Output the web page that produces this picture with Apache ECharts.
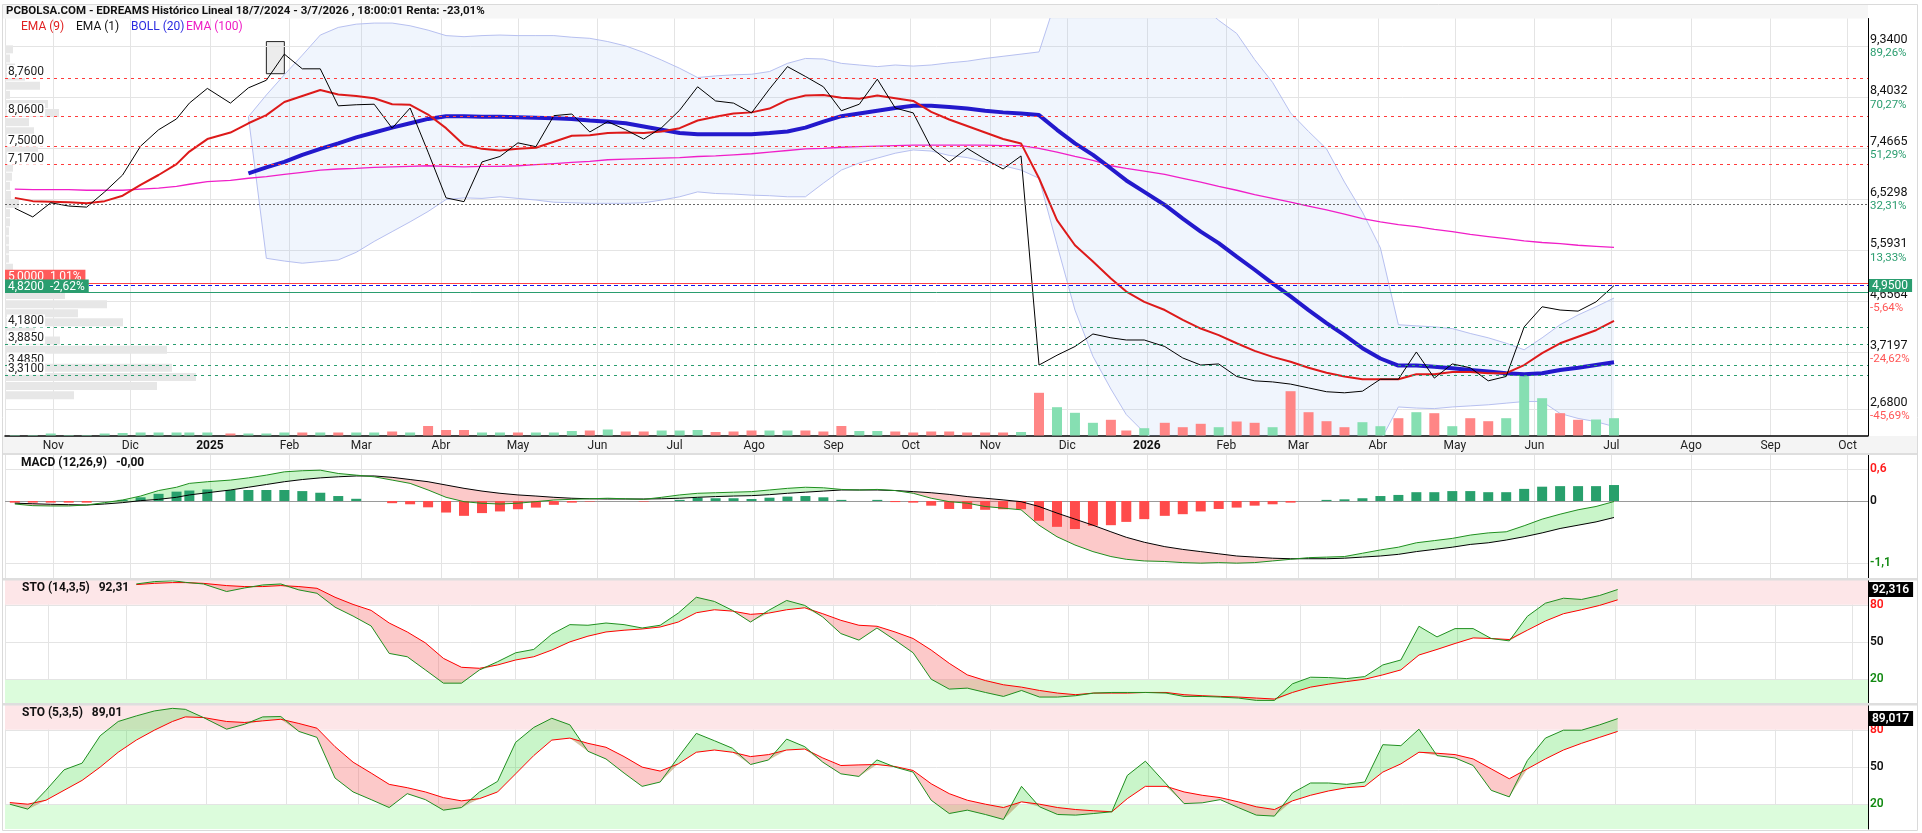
<!DOCTYPE html>
<html>
<head>
<meta charset="utf-8">
<title>EDREAMS - Histórico Lineal</title>
<script src="https://cdn.jsdelivr.net/npm/echarts@6.0.0/dist/echarts.min.js"></script>
<style>
  html, body { margin: 0; padding: 0; background: #fff; }
  #chart { width: 1922px; height: 833px; }
</style>
</head>
<body>
<div id="chart"></div>
<script>
// weekly sessions (Thursday), year-end weeks moved to the last session of the year
const weekDates = []
for (let i = 0; i < 90; i++) weekDates.push(new Date(2024, 9, 17 + 7 * i))
weekDates[10] = new Date(2024, 11, 24)
weekDates[11] = new Date(2024, 11, 31)
weekDates[62] = new Date(2025, 11, 24)
weekDates[63] = new Date(2025, 11, 31)

const monthNames = ['Ene', 'Feb', 'Mar', 'Abr', 'May', 'Jun', 'Jul', 'Ago', 'Sep', 'Oct', 'Nov', 'Dic']

const close = [
  6.37, 6.21, 6.47, 6.41, 6.39, 6.67, 6.98, 7.51, 7.81, 8.01,
  8.30, 8.57, 8.30, 8.58, 8.72, 9.20, 8.93, 8.93, 8.25, 8.27,
  8.28, 7.84, 8.21, 7.40, 6.56, 6.49, 7.22, 7.32, 7.57, 7.50,
  8.07, 8.10, 7.77, 7.96, 7.81, 7.64, 7.85, 8.17, 8.60, 8.34,
  8.30, 8.12, 8.56, 8.97, 8.79, 8.60, 8.16, 8.28, 8.74, 8.21,
  8.12, 7.48, 7.22, 7.47, 7.27, 7.09, 7.33, 3.49, 3.67, 3.83,
  4.06, 3.99, 3.95, 3.95, 3.83, 3.62, 3.49, 3.51, 3.28, 3.20,
  3.18, 3.14, 3.07, 3.00, 2.98, 3.01, 3.23, 3.23, 3.73, 3.25,
  3.51, 3.44, 3.20, 3.28, 4.19, 4.56, 4.50, 4.48, 4.65, 4.95
]
const ema9 = [
  6.56, 6.50, 6.49, 6.48, 6.46, 6.50, 6.60, 6.80, 6.98, 7.18,
  7.41, 7.64, 7.76, 7.93, 8.08, 8.32, 8.43, 8.54, 8.46, 8.43,
  8.39, 8.28, 8.27, 8.09, 7.84, 7.53, 7.46, 7.43, 7.46, 7.48,
  7.59, 7.70, 7.71, 7.75, 7.76, 7.75, 7.78, 7.84, 7.98, 8.05,
  8.11, 8.13, 8.20, 8.36, 8.44, 8.45, 8.40, 8.38, 8.44, 8.39,
  8.34, 8.14, 8.00, 7.88, 7.76, 7.64, 7.56, 6.92, 6.15, 5.69,
  5.39, 5.08, 4.84, 4.65, 4.50, 4.32, 4.16, 4.04, 3.89, 3.75,
  3.64, 3.55, 3.44, 3.35, 3.28, 3.23, 3.23, 3.23, 3.32, 3.32,
  3.36, 3.36, 3.34, 3.34, 3.49, 3.71, 3.89, 4.01, 4.13, 4.30
]
const ema100 = [
  6.72, 6.71, 6.71, 6.71, 6.70, 6.70, 6.70, 6.72, 6.74, 6.77,
  6.81, 6.86, 6.88, 6.92, 6.95, 6.99, 7.03, 7.07, 7.09, 7.10,
  7.12, 7.13, 7.14, 7.15, 7.14, 7.13, 7.14, 7.14, 7.15, 7.17,
  7.19, 7.21, 7.23, 7.26, 7.27, 7.28, 7.29, 7.30, 7.32, 7.33,
  7.35, 7.37, 7.40, 7.43, 7.46, 7.47, 7.49, 7.50, 7.51, 7.52,
  7.53, 7.53, 7.53, 7.53, 7.53, 7.52, 7.52, 7.47, 7.40, 7.32,
  7.25, 7.15, 7.10, 7.05, 6.99, 6.92, 6.85, 6.77, 6.70, 6.62,
  6.55, 6.48, 6.41, 6.34, 6.26, 6.18, 6.12, 6.07, 6.03, 5.98,
  5.94, 5.89, 5.85, 5.81, 5.77, 5.74, 5.72, 5.69, 5.67, 5.65
]
const bollMid = [
  null, null, null, null, null, null, null, null, null, null,
  null, null, null, 7.01, 7.12, 7.22, 7.35, 7.46, 7.56, 7.67,
  7.76, 7.85, 7.93, 8.01, 8.06, 8.06, 8.05, 8.05, 8.04, 8.03,
  8.02, 8.01, 7.98, 7.96, 7.93, 7.87, 7.81, 7.75, 7.73, 7.73,
  7.73, 7.73, 7.75, 7.78, 7.85, 7.96, 8.06, 8.11, 8.16, 8.21,
  8.25, 8.25, 8.23, 8.20, 8.16, 8.13, 8.11, 8.08, 7.81, 7.56,
  7.35, 7.10, 6.88, 6.67, 6.43, 6.18, 5.94, 5.73, 5.48, 5.24,
  4.99, 4.75, 4.50, 4.26, 4.04, 3.80, 3.61, 3.48, 3.48, 3.46,
  3.43, 3.40, 3.37, 3.34, 3.32, 3.34, 3.40, 3.44, 3.49, 3.54
]
const bollUp = [
  null, null, null, null, null, null, null, null, null, null,
  null, null, null, 8.05, 8.45, 8.82, 9.18, 9.55, 9.69, 9.75,
  9.77, 9.77, 9.72, 9.64, 9.54, 9.52, 9.54, 9.55, 9.54, 9.54,
  9.54, 9.51, 9.49, 9.43, 9.35, 9.23, 9.09, 8.94, 8.77, 8.80,
  8.82, 8.83, 8.88, 9.03, 9.12, 9.11, 9.03, 9.00, 8.97, 9.00,
  8.98, 9.00, 9.04, 9.07, 9.12, 9.16, 9.20, 9.24, 10.25, 10.45,
  10.6, 10.65, 10.65, 10.6, 10.5, 10.4, 10.1, 9.82, 9.58, 9.10,
  8.68, 8.12, 7.78, 7.46, 6.85, 6.30, 5.64, 4.23, 4.21, 4.19,
  4.16, 4.07, 3.99, 3.89, 3.77, 3.99, 4.23, 4.41, 4.56, 4.72
]
const bollLow = [
  null, null, null, null, null, null, null, null, null, null,
  null, null, null, 8.05, 5.45, 5.40, 5.36, 5.39, 5.42, 5.56,
  5.76, 5.94, 6.12, 6.31, 6.53, 6.56, 6.55, 6.58, 6.55, 6.52,
  6.48, 6.47, 6.46, 6.46, 6.46, 6.47, 6.52, 6.58, 6.67, 6.64,
  6.63, 6.61, 6.60, 6.58, 6.58, 6.83, 7.07, 7.20, 7.29, 7.38,
  7.44, 7.42, 7.34, 7.30, 7.22, 7.15, 7.07, 6.92, 5.70, 4.50,
  3.65, 3.05, 2.58, 2.25, 2.0, 1.85, 1.8, 1.75, 1.75, 1.8,
  1.85, 1.9, 1.95, 2.0, 2.0, 2.05, 2.1, 2.72, 2.70, 2.69,
  2.72, 2.74, 2.76, 2.79, 2.82, 2.82, 2.60, 2.51, 2.45, 2.36
]
// weekly volume (thousands) and direction of the week (1 up, 0 down)
const volume = [
  5, 5, 20, 5, 5, 20, 25, 30, 30, 30,
  30, 30, 20, 20, 20, 30, 30, 30, 30, 30,
  30, 40, 30, 95, 55, 55, 30, 30, 30, 30,
  30, 45, 50, 60, 40, 40, 50, 50, 55, 35,
  40, 50, 50, 50, 50, 40, 95, 45, 45, 40,
  30, 40, 40, 30, 30, 30, 35, 427, 283, 227,
  127, 157, 50, 73, 127, 83, 117, 83, 140, 127,
  83, 443, 233, 143, 83, 133, 93, 173, 233, 223,
  93, 173, 143, 173, 617, 373, 223, 157, 160, 173
]
const volUp = [
  1, 1, 1, 1, 1, 1, 1, 1, 1, 1,
  1, 1, 0, 1, 1, 1, 0, 1, 0, 1,
  1, 0, 1, 0, 0, 0, 1, 1, 0, 1,
  1, 1, 0, 1, 0, 0, 1, 1, 1, 0,
  0, 0, 1, 1, 0, 0, 0, 1, 1, 0,
  0, 0, 0, 0, 0, 0, 1, 0, 1, 1,
  1, 0, 0, 1, 0, 0, 0, 1, 0, 0,
  1, 0, 0, 0, 0, 1, 1, 0, 1, 0,
  1, 0, 0, 1, 1, 1, 0, 0, 1, 1
]
// volume by price, bins from the bottom up
const profileVol = [
  69, 152, 191, 167, 40, 162, 55, 30, 118, 73,
  102, 60, 40, 20, 8, 4, 4, 4, 4, 5,
  5, 14, 6, 5, 7, 8, 6, 33, 20, 29,
  24, 54, 43, 5, 35, 20, 10, 5, 8, 0
]
const macd = [
  -0.055, -0.085, -0.09, -0.09, -0.073, -0.03, 0.018, 0.09, 0.19, 0.25,
  0.32, 0.35, 0.38, 0.42, 0.47, 0.53, 0.55, 0.56, 0.50, 0.47,
  0.44, 0.38, 0.32, 0.20, 0.067, -0.012, -0.042, -0.055, -0.04, -0.012,
  0.018, 0.03, 0.04, 0.05, 0.04, 0.03, 0.067, 0.11, 0.14, 0.15,
  0.16, 0.17, 0.20, 0.23, 0.25, 0.24, 0.21, 0.20, 0.21, 0.19,
  0.14, 0.05, -0.012, -0.04, -0.10, -0.13, -0.16, -0.44, -0.65, -0.80,
  -0.92, -1.01, -1.06, -1.09, -1.10, -1.12, -1.13, -1.12, -1.13, -1.12,
  -1.09, -1.06, -1.03, -1.02, -1.01, -0.95, -0.89, -0.84, -0.76, -0.72,
  -0.68, -0.62, -0.58, -0.56, -0.45, -0.33, -0.24, -0.16, -0.10, -0.01
]
const macdSignal = [
  -0.04, -0.05, -0.06, -0.067, -0.073, -0.055, -0.03, 0.006, 0.03, 0.067,
  0.11, 0.15, 0.20, 0.25, 0.30, 0.35, 0.39, 0.42, 0.44, 0.455,
  0.455, 0.43, 0.39, 0.35, 0.29, 0.23, 0.18, 0.14, 0.11, 0.09,
  0.067, 0.05, 0.04, 0.036, 0.036, 0.036, 0.04, 0.05, 0.067, 0.08,
  0.09, 0.097, 0.115, 0.14, 0.16, 0.18, 0.20, 0.20, 0.20, 0.19,
  0.17, 0.15, 0.12, 0.08, 0.05, 0.02, -0.012, -0.10, -0.22, -0.33,
  -0.44, -0.56, -0.66, -0.75, -0.83, -0.88, -0.92, -0.96, -1.0, -1.02,
  -1.04, -1.05, -1.05, -1.05, -1.04, -1.02, -1.0, -0.97, -0.92, -0.88,
  -0.84, -0.79, -0.76, -0.71, -0.65, -0.58, -0.50, -0.44, -0.38, -0.30
]
const macdHist = [
  -0.03, -0.03, -0.03, -0.03, -0.03, 0, 0.02, 0.067, 0.13, 0.17,
  0.19, 0.21, 0.2, 0.2, 0.2, 0.2, 0.18, 0.15, 0.09, 0.04,
  0, -0.04, -0.06, -0.115, -0.21, -0.27, -0.22, -0.19, -0.15, -0.12,
  -0.07, -0.03, -0.01, 0, 0, -0.01, 0, 0.02, 0.06, 0.05,
  0.05, 0.036, 0.06, 0.08, 0.09, 0.067, 0.02, 0, 0.02, -0.02,
  -0.03, -0.085, -0.145, -0.145, -0.16, -0.15, -0.15, -0.36, -0.47, -0.51,
  -0.45, -0.44, -0.38, -0.33, -0.27, -0.24, -0.19, -0.145, -0.12, -0.085,
  -0.06, -0.03, 0, 0.02, 0.03, 0.05, 0.09, 0.11, 0.16, 0.16,
  0.18, 0.18, 0.16, 0.16, 0.22, 0.26, 0.27, 0.27, 0.27, 0.29
]
const sto14K = [
  null, null, null, null, null, null, null, 96.8, 98.7, 99.5,
  98.1, 96.8, 90.7, 93.6, 96, 96.8, 92, 89.3, 78.1, 70.9,
  62.9, 40.8, 38.1, 27.5, 16.8, 16.8, 27.5, 34.1, 41.3, 44,
  56.3, 64, 63.5, 65.3, 64, 61.3, 63.5, 73.3, 86.1, 82.7,
  75.5, 66.1, 75.5, 83.5, 79.5, 70.1, 56.8, 51.5, 61.3, 51.5,
  41.3, 20, 12, 12.8, 9.3, 6.1, 10.9, 5.6, 5.6, 6.7,
  8.8, 9.3, 9.3, 9.3, 8.8, 6.1, 6.1, 5.6, 4.8, 2.9,
  2.9, 16.3, 21.6, 21.3, 20.5, 22.1, 31.5, 35.5, 62.7, 54.1,
  60.8, 60.8, 52.8, 50.9, 70.7, 81.3, 85.3, 84.3, 87.5, 92.316
]
const sto14D = [
  null, null, null, null, null, null, null, 96.3, 97.3, 97.9,
  97.9, 97.3, 95.5, 94.7, 94.7, 95.5, 94.7, 93.3, 86.1, 80.3,
  75.5, 65.3, 58.1, 49.3, 36.8, 29.6, 28.8, 31.5, 35.5, 38.1,
  43.5, 50.1, 54.7, 58.1, 59.5, 60.5, 62.1, 66.1, 73.6, 76,
  74.9, 72.3, 73.3, 76, 77.6, 72.8, 67.5, 63.5, 62.7, 58.1,
  52.8, 43.5, 32.8, 23.5, 18.9, 15.5, 13.6, 10.9, 8.8, 7.5,
  8.8, 8.8, 8.8, 9.3, 9.3, 7.5, 6.7, 6.1, 5.6, 4.8,
  4, 9.3, 13.6, 16, 18.1, 20, 23.5, 27.5, 39.5, 44,
  48.8, 53.3, 52.8, 52, 59.5, 66.9, 72.8, 76, 79.5, 84
]
const sto5K = [
  20, 16, 31.2, 47.7, 53.1, 75.2, 86.7, 91.2, 95.2, 97.3,
  96.5, 89.9, 80.5, 84.5, 90.4, 90.7, 78.7, 73.9, 41.1, 29.9,
  23.7, 17.3, 28.5, 23.7, 15.2, 17.3, 29.9, 38.4, 69.9, 81.9,
  89.3, 84, 62.7, 56.5, 45.1, 34.4, 37.9, 57.9, 77.1, 71.2,
  65.1, 52, 55.7, 72.5, 66.4, 53.9, 44.5, 42.4, 55.7, 49.9,
  45.9, 23.2, 12.5, 15.2, 11.7, 7.7, 34.4, 17.9, 11.7, 11.2,
  12.5, 13.9, 43.2, 54.7, 36.5, 20.5, 21.1, 23.7, 17.3, 11.2,
  10.4, 29.1, 37.1, 37.1, 36, 37.9, 68, 67.2, 80.5, 59.2,
  57.3, 51.2, 31.2, 25.9, 55.2, 73.3, 79.7, 79.7, 84, 89.017
]
const sto5D = [
  21.3, 20, 23.2, 31.2, 39.2, 49.9, 61.9, 71.7, 79.7, 86.7,
  90.4, 89.9, 86.7, 85.9, 87.2, 88.5, 85.1, 81.3, 66.4, 53.9,
  45.1, 36, 33.3, 29.9, 25.3, 22.7, 24.5, 29.9, 44.5, 59.2,
  71.7, 73.3, 69.1, 65.9, 58.4, 49.9, 46.7, 52.5, 61.9, 63.7,
  61.9, 58.4, 60, 63.7, 64.5, 57.3, 51.2, 51.7, 52, 50.4,
  47.2, 36.5, 28.5, 23.2, 20, 17.3, 21.9, 20, 17.3, 15.7,
  14.7, 13.9, 24.5, 34.4, 34.4, 29.9, 27.2, 25.3, 21.9, 17.9,
  15.7, 22.7, 27.2, 30.7, 33.3, 34.4, 45.9, 52.5, 61.9, 61.1,
  60, 56.5, 48.5, 40.5, 48.5, 56.5, 63.7, 69.1, 73.9, 78.7
]

// price scale ticks (right) and their distance to the last close
const priceTicks = [9.34, 8.4032, 7.4665, 6.5298, 5.5931, 4.6564, 3.7197, 2.68]
const priceTickLabels = ['9,3400', '8,4032', '7,4665', '6,5298', '5,5931', '4,6564', '3,7197', '2,6800']
const priceTickPct = ['89,26%', '70,27%', '51,29%', '32,31%', '13,33%', '-5,64%', '-24,62%', '-45,69%']
// resistances / supports drawn with their price on the left
const resLevels = [8.76, 8.06, 7.50, 7.17]
const resLabels = ['8,7600', '8,0600', '7,5000', '7,1700']
const supLevels = [4.18, 3.885, 3.485, 3.31]
const supLabels = ['4,1800', '3,8850', '3,4850', '3,3100']
const pivotLevel = 6.44
const lastClose = 4.95
const alertHigh = 5.00
const alertLow = 4.82
const macdTicks = [0.58, 0, -1.13]
const macdTickLabels = ['0,6', '0', '-1,1']
const stoTicks = [80, 50, 20]

const GREEN = '#2a9d6f'
const DAY = 86400000
const xMin = new Date(2024, 9, 15, 3).getTime()
const xMax = new Date(2026, 9, 7).getTime()
const FONT = 'Roboto, "Liberation Sans", sans-serif'

const pair = arr => weekDates.map((d, i) => [d, arr[i]])

const fillBetween = (a, b, gi, id, upColor, dnColor) => {
    const base = a.map((v, i) => v == null ? null : Math.min(v, b[i]))
    const up = a.map((v, i) => v == null ? null : Math.max(v - b[i], 0))
    const dn = a.map((v, i) => v == null ? null : Math.max(b[i] - v, 0))
    const common = {
        type: 'line', xAxisIndex: gi, yAxisIndex: gi + 1, symbol: 'none', silent: true,
        stackStrategy: 'all', lineStyle: { opacity: 0 }, z: 2
    }
    return [
        { ...common, stack: id + 'u', data: pair(base) },
        { ...common, stack: id + 'u', data: pair(up), areaStyle: { color: upColor, opacity: 1 } },
        { ...common, stack: id + 'd', data: pair(base) },
        { ...common, stack: id + 'd', data: pair(dn), areaStyle: { color: dnColor, opacity: 1 } }
    ]
}

const timeAxis = (gi, showLabel) => ({
    type: 'time', gridIndex: gi, min: xMin, max: xMax,
    minInterval: 28 * DAY, maxInterval: 31 * DAY, splitNumber: 24,
    splitLine: { show: true, lineStyle: { color: '#e4e4e4', width: 1 } },
    axisLine: { show: showLabel, onZero: false, lineStyle: { color: '#000', width: 1.5 } },
    axisTick: { show: false },
    axisLabel: showLabel ? {
        show: true, margin: 4, color: '#222', fontSize: 12, fontFamily: FONT,
        formatter: value => {
            const d = new Date(value)
            return d.getMonth() === 0 ? '{y|' + d.getFullYear() + '}' : monthNames[d.getMonth()]
        },
        rich: { y: { fontWeight: 'bold', fontSize: 12, color: '#111' } }
    } : { show: false }
})

const valueAxis = (gi, min, max) => ({
    type: 'value', gridIndex: gi, min: min, max: max, position: 'right',
    axisLine: { show: true, lineStyle: { color: '#000', width: 1 } },
    axisTick: { show: false }, axisLabel: { show: false }, splitLine: { show: false }
})

const hLine = (value, color, type, label) => ({
    yAxis: value,
    lineStyle: { color: color, type: type, width: 1 },
    label: label || { show: false }
})

const leftLabel = text => ({
    show: true, position: 'insideStartTop', distance: [2, 0], formatter: text,
    color: '#222', fontSize: 12, fontFamily: FONT, backgroundColor: '#fff', padding: [1, 1, 0, 1]
})
const boxLabel = (text, bg, position) => ({
    show: true, position: position, distance: position === 'end' ? [1, 0] : [0, 0], formatter: text,
    color: '#fff', fontSize: 12, fontFamily: FONT, backgroundColor: bg, padding: [1, 4, 0, 3]
})

const chartDom = document.getElementById('chart')
const myChart = echarts.init(chartDom)

const series = []

// price gridlines with the right scale
series.push({
    type: 'line', xAxisIndex: 0, yAxisIndex: 0, data: [], silent: true,
    markLine: {
        z: 1, silent: true, symbol: 'none', animation: false,
        data: priceTicks.map((v, i) => ({
            yAxis: v,
            lineStyle: { color: '#e4e4e4', type: 'solid', width: 1 },
            label: {
                show: true, position: 'end', distance: 2, fontFamily: FONT,
                formatter: '{v|' + priceTickLabels[i] + '}\n{' + (v > lastClose ? 'g' : 'r') + '|' + priceTickPct[i] + '}',
                rich: {
                    v: { color: '#111', fontSize: 12.5, lineHeight: 14, fontFamily: FONT },
                    g: { color: GREEN, fontSize: 11.5, lineHeight: 13, fontFamily: FONT },
                    r: { color: '#f55', fontSize: 11.5, lineHeight: 13, fontFamily: FONT }
                }
            }
        }))
    }
})

// volume by price
series.push({
    type: 'bar', xAxisIndex: 4, yAxisIndex: 5, data: profileVol, barWidth: 8,
    itemStyle: { color: '#e7e7e7' }, silent: true, z: 1
})

// bollinger band
series.push({
    type: 'line', xAxisIndex: 0, yAxisIndex: 0, data: pair(bollLow), stack: 'boll', stackStrategy: 'all',
    symbol: 'none', silent: true, z: 2, lineStyle: { color: '#b7c0f0', width: 1 }
})
series.push({
    type: 'line', xAxisIndex: 0, yAxisIndex: 0, stack: 'boll', stackStrategy: 'all',
    data: pair(bollUp.map((v, i) => v == null ? null : v - bollLow[i])),
    symbol: 'none', silent: true, z: 2, lineStyle: { color: '#b7c0f0', width: 1 },
    areaStyle: { color: 'rgba(160,190,245,0.22)' }
})

// volume
series.push({
    type: 'bar', xAxisIndex: 0, yAxisIndex: 1, barWidth: 10, silent: true, z: 3,
    data: weekDates.map((d, i) => ({
        value: [d, volume[i]],
        itemStyle: { color: volUp[i] ? '#86dfb2' : '#ff8686' }
    }))
})

series.push({
    type: 'line', xAxisIndex: 0, yAxisIndex: 0, data: pair(ema100), symbol: 'none', silent: true, z: 4,
    lineStyle: { color: '#f01fc8', width: 1.3 }
})
series.push({
    type: 'line', xAxisIndex: 0, yAxisIndex: 0, data: pair(bollMid), symbol: 'none', silent: true, z: 5,
    lineStyle: { color: '#2319cc', width: 4 }
})
series.push({
    type: 'line', xAxisIndex: 0, yAxisIndex: 0, data: pair(ema9), symbol: 'none', silent: true, z: 6,
    lineStyle: { color: '#dd1a1a', width: 2 }
})
series.push({
    type: 'line', xAxisIndex: 0, yAxisIndex: 0, data: pair(close), symbol: 'none', silent: true, z: 7,
    lineStyle: { color: '#000', width: 1 },
    markArea: {
        silent: true,
        itemStyle: { color: '#ececec', borderColor: '#222', borderWidth: 1 },
        data: [[{ coord: [weekDates[14], 9.43] }, { coord: [weekDates[15], 8.84] }]]
    }
})

// reference levels
series.push({
    type: 'line', xAxisIndex: 0, yAxisIndex: 0, data: [], silent: true,
    markLine: {
        z: 8, silent: true, symbol: 'none', animation: false,
        data: [
            ...resLevels.map((v, i) => hLine(v, '#ff3c3c', [3, 4], leftLabel(resLabels[i]))),
            hLine(pivotLevel, '#666', [2, 2]),
            hLine(alertHigh, '#ff4545', 'solid', boxLabel('5,0000  1,01%', '#ff5a5a', 'insideStartTop')),
            hLine(lastClose, '#1010ee', [4, 3], boxLabel('4,9500', GREEN, 'end')),
            hLine(alertLow, GREEN, 'solid', boxLabel('4,8200  -2,62%', GREEN, 'insideStartTop')),
            ...supLevels.map((v, i) => hLine(v, GREEN, [3, 4], leftLabel(supLabels[i])))
        ]
    }
})

// MACD panel
series.push({
    type: 'line', xAxisIndex: 1, yAxisIndex: 2, data: [], silent: true,
    markLine: {
        z: 1, silent: true, symbol: 'none', animation: false,
        data: macdTicks.map((v, i) => ({
            yAxis: v,
            lineStyle: { color: v === 0 ? '#9a9a9a' : '#e4e4e4', type: 'solid', width: 1 },
            label: {
                show: true, position: 'end', distance: 2, formatter: macdTickLabels[i],
                color: v > 0 ? '#ff1a1a' : (v < 0 ? '#138a13' : '#111'),
                fontSize: 12, fontWeight: 600, fontFamily: FONT
            }
        }))
    }
})
series.push({
    type: 'bar', xAxisIndex: 1, yAxisIndex: 2, barWidth: 10, silent: true, z: 3,
    data: weekDates.map((d, i) => ({
        value: [d, macdHist[i]],
        itemStyle: { color: macdHist[i] >= 0 ? '#28a06c' : '#ff4b4b' }
    }))
})
series.push(...fillBetween(macd, macdSignal, 1, 'macd', 'rgba(60,220,60,0.28)', 'rgba(245,90,90,0.33)'))
series.push({
    type: 'line', xAxisIndex: 1, yAxisIndex: 2, data: pair(macdSignal), symbol: 'none', silent: true, z: 4,
    lineStyle: { color: '#000', width: 1 }
})
series.push({
    type: 'line', xAxisIndex: 1, yAxisIndex: 2, data: pair(macd), symbol: 'none', silent: true, z: 5,
    lineStyle: { color: '#1f8f1f', width: 1 }
})

// stochastic panels
const stoPanel = (gi, k, d, lastText) => {
    const out = []
    out.push({
        type: 'line', xAxisIndex: gi, yAxisIndex: gi + 1, data: [], silent: true,
        markArea: {
            silent: true, z: 0,
            data: [
                [{ yAxis: 80, itemStyle: { color: '#fde6e8' } }, { yAxis: 100 }],
                [{ yAxis: 0, itemStyle: { color: '#dcfcdc' } }, { yAxis: 20 }]
            ]
        },
        markLine: {
            z: 1, silent: true, symbol: 'none', animation: false,
            data: stoTicks.map(v => ({
                yAxis: v,
                lineStyle: { color: '#e4e4e4', type: 'solid', width: 1 },
                label: {
                    show: true, position: 'end', distance: 2, formatter: String(v),
                    color: v === 80 ? '#ff1a1a' : (v === 20 ? '#138a13' : '#111'),
                    fontSize: 12, fontWeight: 600, fontFamily: FONT
                }
            }))
        }
    })
    // last value box on the scale
    out.push({
        type: 'line', xAxisIndex: gi, yAxisIndex: gi + 1, data: [], silent: true,
        markLine: {
            z: 9, silent: true, symbol: 'none', animation: false,
            data: [{
                yAxis: k[k.length - 1],
                lineStyle: { color: 'rgba(0,0,0,0)', width: 0 },
                label: {
                    show: true, position: 'end', distance: 1, formatter: lastText,
                    color: '#fff', backgroundColor: '#000', padding: [2, 4, 1, 3],
                    fontSize: 12, fontWeight: 600, fontFamily: FONT
                }
            }]
        }
    })
    out.push(...fillBetween(k, d, gi, 'sto' + gi, 'rgba(60,220,60,0.28)', 'rgba(245,90,90,0.33)'))
    out.push({
        type: 'line', xAxisIndex: gi, yAxisIndex: gi + 1, data: pair(d), symbol: 'none', silent: true, z: 4,
        lineStyle: { color: '#ff0000', width: 1 }
    })
    out.push({
        type: 'line', xAxisIndex: gi, yAxisIndex: gi + 1, data: pair(k), symbol: 'none', silent: true, z: 5,
        lineStyle: { color: '#1f8f1f', width: 1 }
    })
    return out
}
series.push(...stoPanel(2, sto14K, sto14D, '92,316'))
series.push(...stoPanel(3, sto5K, sto5D, '89,017'))

const text = (x, y, str, color, weight, size) => ({
    type: 'text', x: x, y: y, z: 100, silent: true,
    style: { text: str, fill: color, fontSize: size || 12, fontFamily: FONT, fontWeight: weight || 'normal', verticalAlign: 'middle' }
})
const band = (x, y, w, h, color, z) => ({
    type: 'rect', z: z, silent: true, shape: { x: x, y: y, width: w, height: h }, style: { fill: color }
})

const option = {
    animation: false,
    textStyle: { fontFamily: FONT },
    grid: [
        { left: 5, right: 54, top: 18.5, height: 417 },
        { left: 5, right: 54, top: 455, height: 123 },
        { left: 5, right: 54, top: 580, height: 124 },
        { left: 5, right: 54, top: 705, height: 124 },
        { left: 5, right: 54, top: 35.7, height: 364 }
    ],
    xAxis: [
        timeAxis(0, true), timeAxis(1, false), timeAxis(2, false), timeAxis(3, false),
        { type: 'value', gridIndex: 4, min: 0, max: 1863, show: false }
    ],
    yAxis: [
        valueAxis(0, 2.196, 9.854),
        { type: 'value', gridIndex: 0, min: 0, max: 4170, show: false },
        valueAxis(1, -1.4, 0.836),
        valueAxis(2, 0, 100),
        valueAxis(3, 0, 100),
        { type: 'category', gridIndex: 4, data: profileVol.map((v, i) => 'b' + i), show: false }
    ],
    series: series,
    graphic: [
        { type: 'rect', z: -20, silent: true, shape: { x: 2.5, y: 4.5, width: 1915, height: 826 },
          style: { fill: '#fff', stroke: '#dadada', lineWidth: 1 } },
        band(3, 5, 1865, 13.5, '#f6f6f6', -10),
        band(3, 436, 1914, 17, '#f4f4f4', -10),
        band(3, 453, 1914, 2, '#dedede', 50),
        band(3, 578, 1914, 2.5, '#dedede', 50),
        band(3, 703, 1914, 2.5, '#dedede', 50),
        text(6, 11.5, 'PCBOLSA.COM - EDREAMS Histórico Lineal 18/7/2024 - 3/7/2026 , 18:00:01 Renta: -23,01%', '#111', 'bold', 11.5),
        text(21, 27, 'EMA (9)', '#e02020'),
        text(76, 27, 'EMA (1)', '#111'),
        text(131, 27, 'BOLL (20)', '#2a2ae0'),
        text(186, 27, 'EMA (100)', '#ee1cc4'),
        text(21, 463, 'MACD (12,26,9)   -0,00', '#111', 'bold'),
        text(22, 588, 'STO (14,3,5)   92,31', '#111', 'bold'),
        text(22, 713, 'STO (5,3,5)   89,01', '#111', 'bold')
    ]
}

myChart.setOption(option)
</script>
</body>
</html>
